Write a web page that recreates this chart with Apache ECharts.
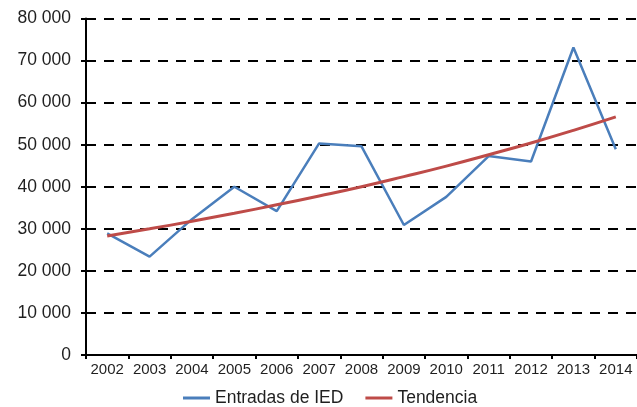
<!DOCTYPE html>
<html>
<head>
<meta charset="utf-8">
<script src="https://cdn.jsdelivr.net/npm/echarts@6/dist/echarts.min.js"></script>
<style>
html,body{margin:0;padding:0;background:#fff;}
#c{width:637px;height:407px;}
</style>
</head>
<body>
<div id="c"></div>
<script>
var years = ['2002','2003','2004','2005','2006','2007','2008','2009','2010','2011','2012','2013','2014'];
var entradasIED = [28900, 23400, 32300, 40000, 34200, 50300, 49600, 30900, 37600, 47300, 46000, 73100, 48900];
var tendencia = [28300, 30000, 31800, 33700, 35700, 37800, 40000, 42400, 44900, 47600, 50400, 53400, 56600];
var seriesNames = ['Entradas de IED', 'Tendencia'];
var yTicks = [0, 10000, 20000, 30000, 40000, 50000, 60000, 70000, 80000];

function fmt(v){
  var s = String(v);
  return s.replace(/\B(?=(\d{3})+(?!\d))/g, ' ');
}

var chart = echarts.init(document.getElementById('c'), null, {renderer:'canvas'});
chart.setOption({
  animation:false,
  backgroundColor:'#ffffff',
  textStyle:{fontFamily:'Liberation Sans, Arial, sans-serif'},
  grid:{left:86, right:-6, top:18.5, bottom:52, containLabel:false},
  legend:{
    data:seriesNames,
    left:178, top:384,
    icon:'rect', itemWidth:27, itemHeight:3, itemGap:22,
    textStyle:{fontSize:17.5, color:'#1f1f1f'}
  },
  xAxis:{
    type:'category',
    data:years,
    boundaryGap:true,
    axisLine:{lineStyle:{color:'#000', width:2}},
    axisTick:{show:true, length:4, lineStyle:{color:'#000', width:2}},
    axisLabel:{fontSize:15, color:'#1f1f1f', margin:7, interval:0},
    splitLine:{show:false}
  },
  yAxis:{
    type:'value',
    min:yTicks[0], max:yTicks[yTicks.length-1], interval:yTicks[1]-yTicks[0],
    axisLine:{show:true, lineStyle:{color:'#000', width:2}},
    axisTick:{show:true, length:5, lineStyle:{color:'#000', width:2}},
    axisLabel:{fontSize:17.5, color:'#1f1f1f', margin:15, formatter:fmt},
    splitLine:{show:true, lineStyle:{color:'#000', width:2.2, type:[10,8]}}
  },
  series:[
    {name:seriesNames[0], type:'line', data:entradasIED, symbol:'none',
     color:'#4a7ebb', lineStyle:{width:2.5, color:'#4a7ebb'}, z:2},
    {name:seriesNames[1], type:'line', data:tendencia, symbol:'none', smooth:true,
     color:'#be4b48', lineStyle:{width:3, color:'#be4b48'}, z:3}
  ]
});
</script>
</body>
</html>
